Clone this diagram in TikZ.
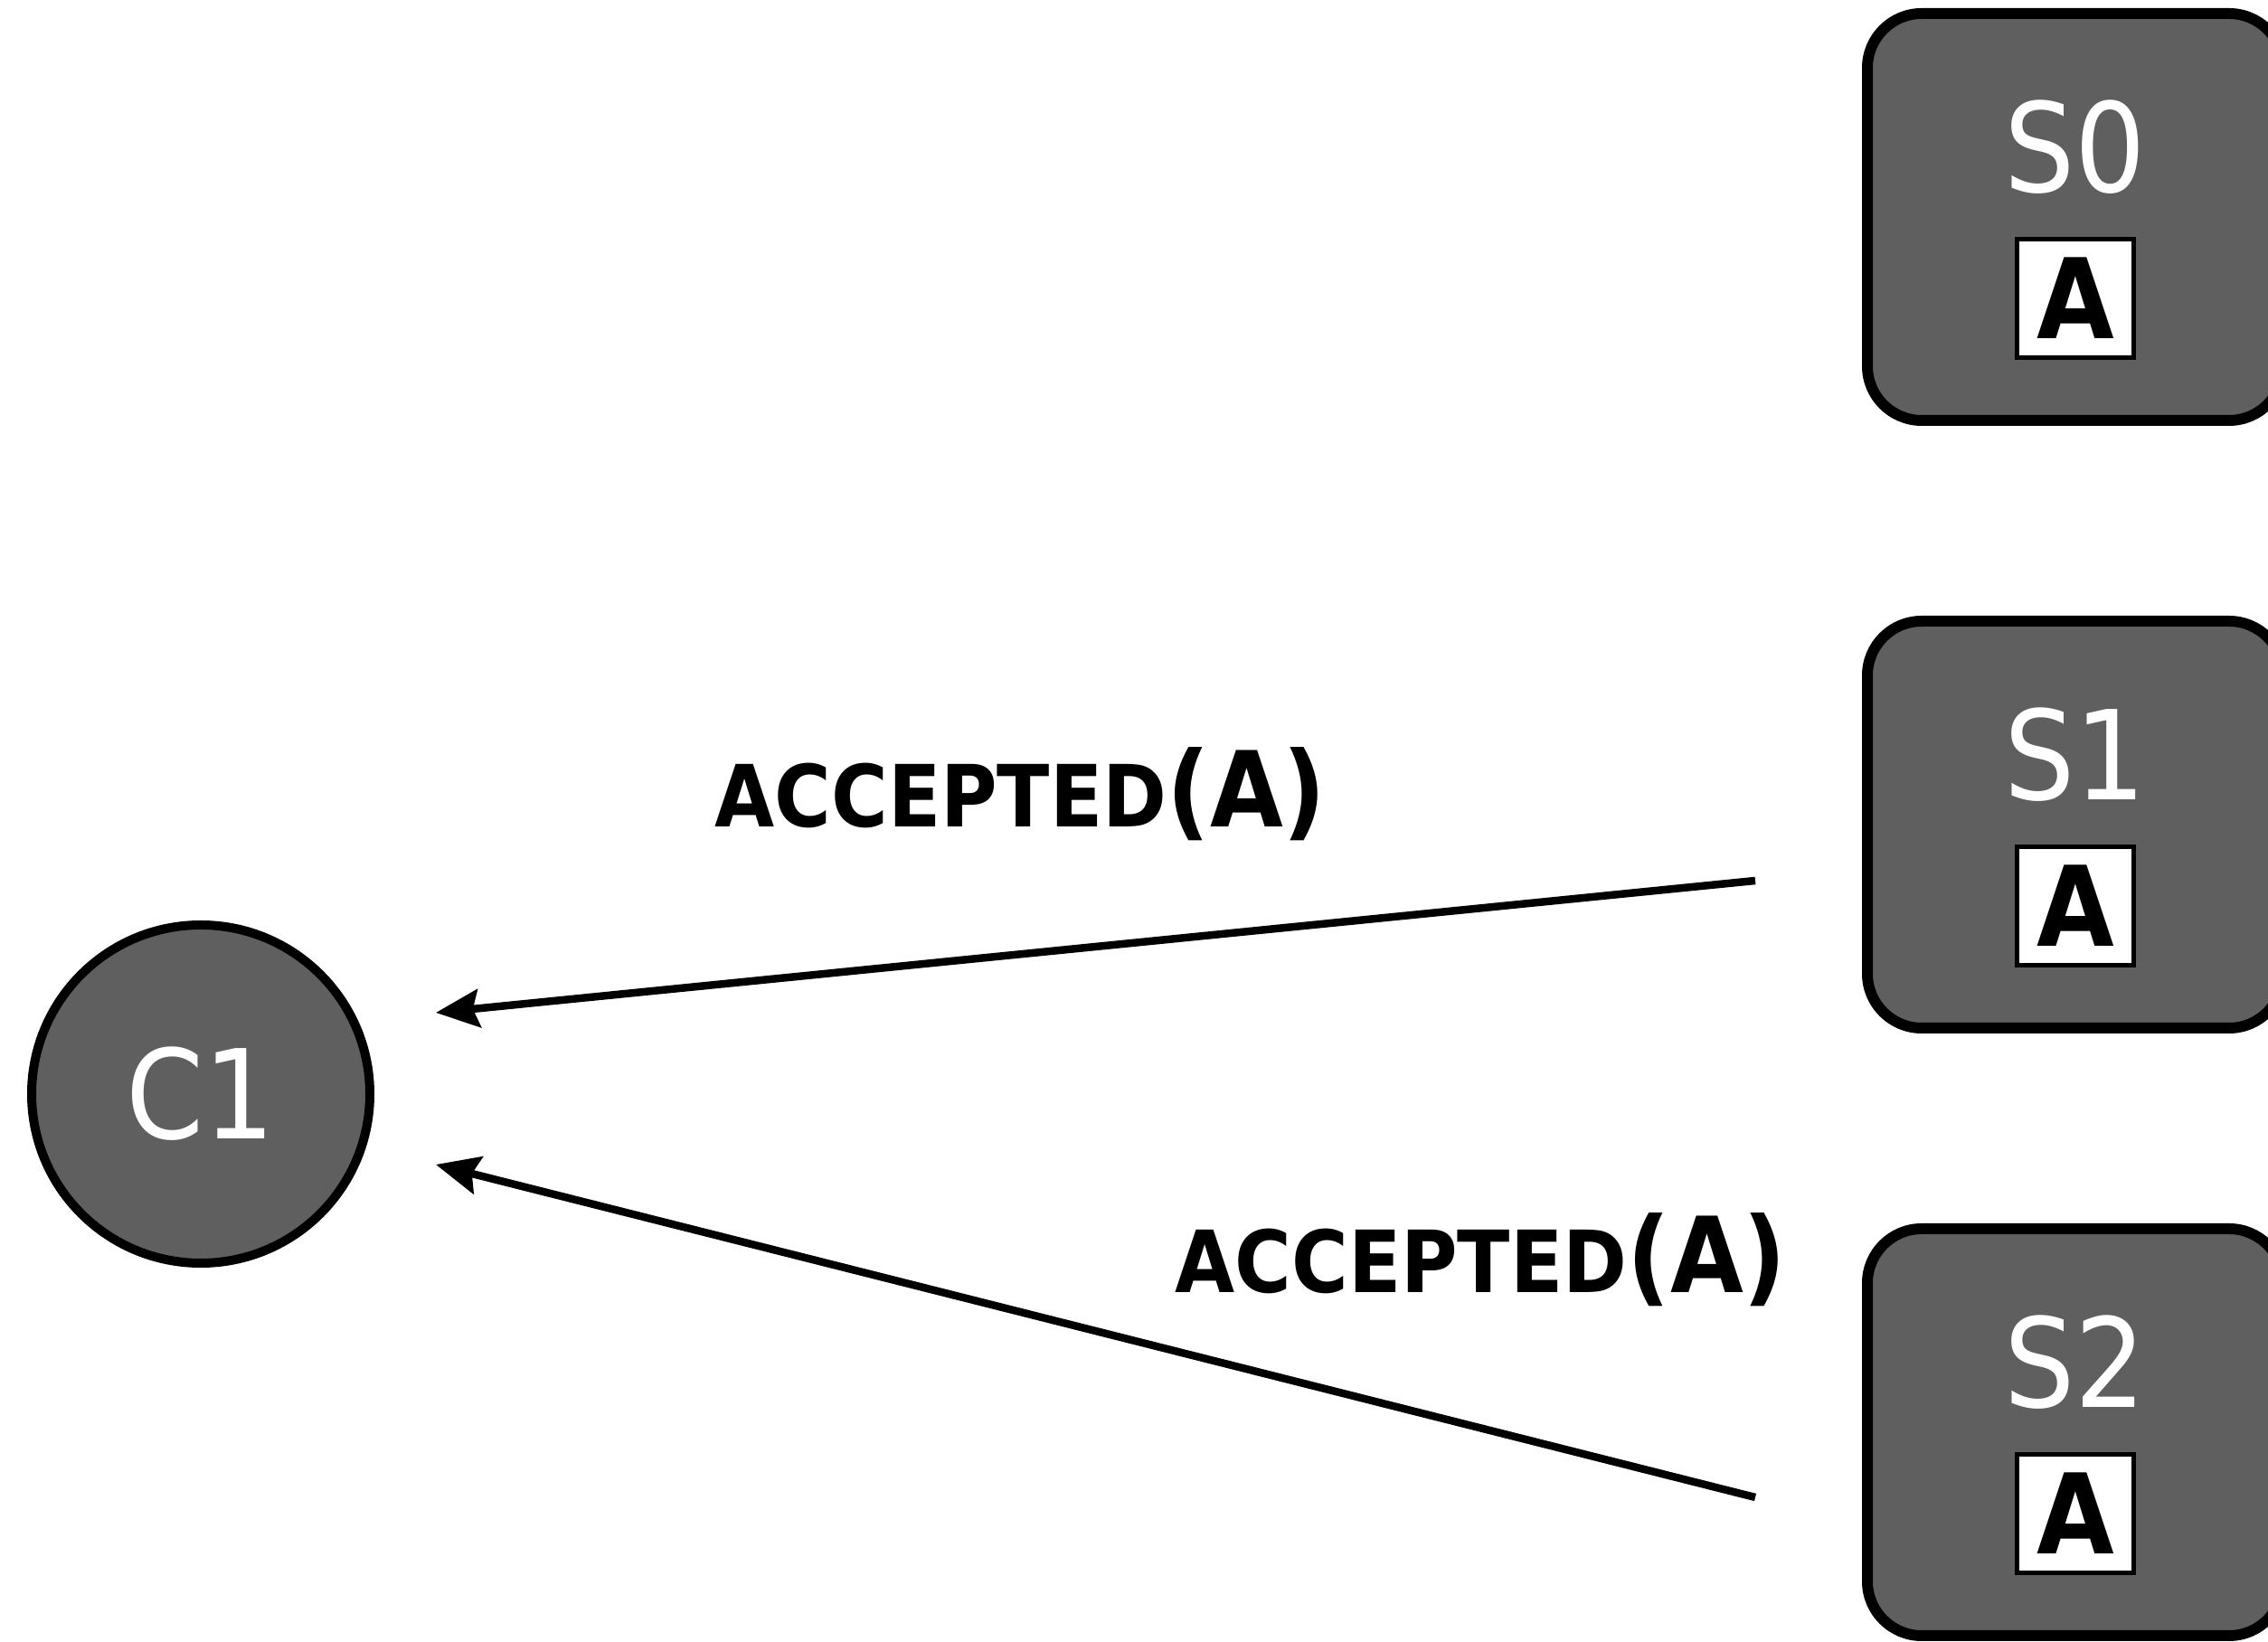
\documentclass[tikz,border=0pt]{standalone}
\usepackage{fontspec}
\setmainfont{DejaVu Sans Condensed}
\usetikzlibrary{arrows.meta}

\definecolor{nodegray}{HTML}{5F5F5F}

\tikzset{
  server/.style={draw, fill=nodegray, line width=0.12cm, rounded corners=0.6cm,
    minimum width=4.6cm, minimum height=4.5cm},
  client/.style={draw, circle, fill=nodegray, line width=0.1cm, minimum size=3.74cm},
  nodetext/.style={text=white, inner sep=0, font=\fontsize{39}{40}\selectfont},
  valbox/.style={draw, fill=white, line width=0.05cm, inner sep=0,
    minimum width=1.29cm, minimum height=1.31cm, font=\bfseries\fontsize{35}{36}\selectfont},
  msg/.style={-{Stealth[length=0.48cm,width=0.42cm,inset=0.07cm]}, line width=0.085cm},
  msglabel/.style={anchor=base west, inner sep=0, font=\bfseries}
}

\newcommand{\accepted}[1]{{\fontsize{27}{30}\selectfont ACCEPTED}{\fontsize{33}{36}\selectfont (#1)}}

\begin{document}
\begin{tikzpicture}

   \clip (0,0) rectangle (25.08,18.16);
   \useasboundingbox (0,0) rectangle (25.08,18.16);

   % client
   \node (C1) at (2.22,6.06) [client] {};
   \node (C1name) at (C1.center) [nodetext] {C1};

   % servers
   \node (S0) at (22.95,15.76) [server] {};
   \node (S0name) at ([yshift=0.77cm]S0.center) [nodetext] {S0};
   \node (S0val) at ([yshift=-0.90cm]S0.center) [valbox] {A};

   \node (S1) at (22.95,9.04) [server] {};
   \node (S1name) at ([yshift=0.77cm]S1.center) [nodetext] {S1};
   \node (S1val) at ([yshift=-0.90cm]S1.center) [valbox] {A};

   \node (S2) at (22.95,2.32) [server] {};
   \node (S2name) at ([yshift=0.77cm]S2.center) [nodetext] {S2};
   \node (S2val) at ([yshift=-0.90cm]S2.center) [valbox] {A};

   % message ends
   \coordinate (S1out) at (19.41,8.42);
   \coordinate (C1inA) at (4.82,6.96);
   \coordinate (S2out) at (19.41,1.60);
   \coordinate (C1inB) at (4.82,5.28);

   \draw [msg] (S1out) -- (C1inA);
   \draw [msg] (S2out) -- (C1inB);

   \node (msgS1) at (7.90,9.01) [msglabel] {\accepted{A}};
   \node (msgS2) at (12.99,3.86) [msglabel] {\accepted{A}};

\end{tikzpicture}
\end{document}
